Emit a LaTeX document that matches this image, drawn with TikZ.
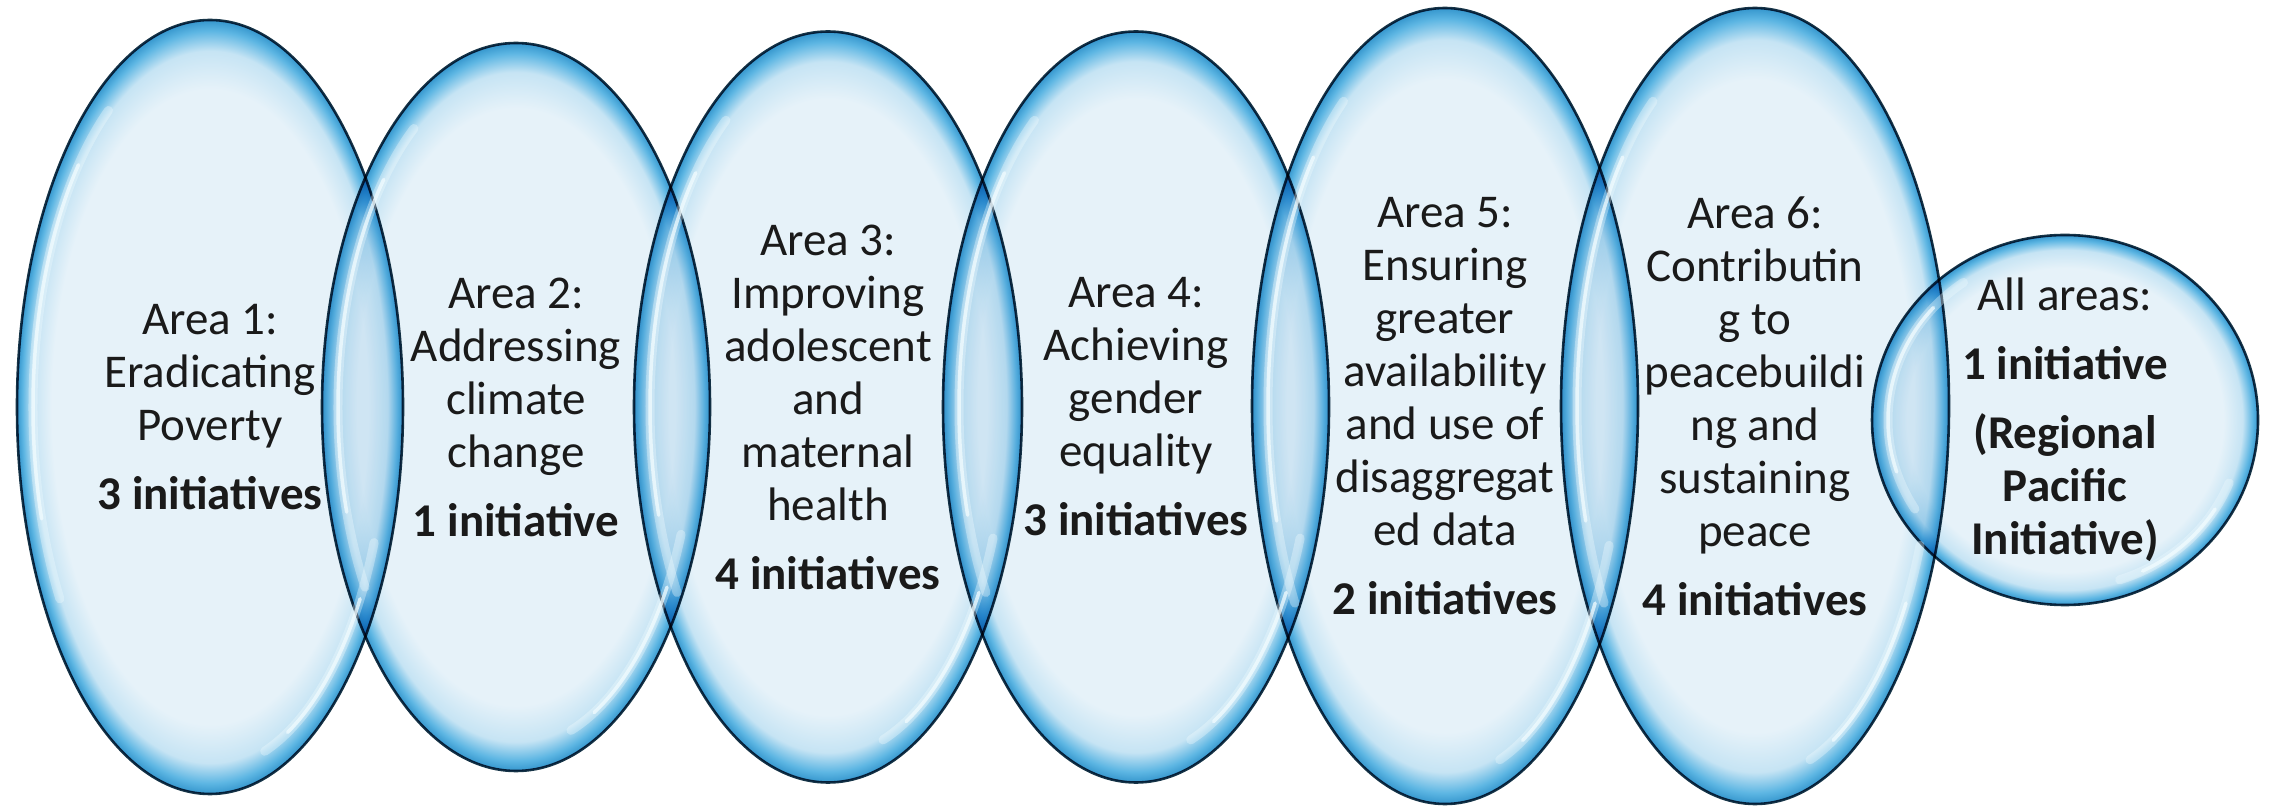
\documentclass[tikz,border=0pt]{standalone}
\usepackage{fontspec}
\setmainfont{Carlito}
\usetikzlibrary{shapes.geometric}
\definecolor{gin}{HTML}{E6F2F9}
\definecolor{gmid}{HTML}{C6E4F4}
\definecolor{gring}{HTML}{5DB6E3}
\definecolor{gedge}{HTML}{3596CD}
\definecolor{gline}{HTML}{163447}
\definecolor{txt}{HTML}{1A1A1A}
\definecolor{hl}{HTML}{F2FCFF}
\pgfdeclareradialshading{glossy}{\pgfpoint{0bp}{0bp}}{color(0bp)=(gin); color(20.5bp)=(gin); color(23bp)=(gmid); color(24.3bp)=(gring); color(25bp)=(gedge); color(50bp)=(gedge)}
\tikzset{
  petal/.style={ellipse, draw=gline, line width=2.6pt, shade, shading=glossy, inner sep=0pt, outer sep=0pt},
  labeltext/.style={font=\fontsize{47}{53}\selectfont, text=txt, align=center, inner sep=0pt},
  hlwide/.style={draw=hl, opacity=.35, line width=9pt, line cap=round},
  hlthin/.style={draw=hl, opacity=.75, line width=3.5pt, line cap=round},
}
\newcommand\glossmark[3]{%
  \begin{scope}[shift={(#1.center)}]
    \draw[hlwide] (125:#2 and #3) arc[start angle=125, end angle=212, x radius=#2, y radius=#3];
    \draw[hlthin] (138:#2 and #3) arc[start angle=138, end angle=198, x radius=#2, y radius=#3];
    \draw[hlwide] (-72:#2 and #3) arc[start angle=-72, end angle=-22, x radius=#2, y radius=#3];
    \draw[hlthin] (-64:#2 and #3) arc[start angle=-64, end angle=-32, x radius=#2, y radius=#3];
  \end{scope}}
\begin{document}
\begin{tikzpicture}[x=1pt,y=1pt]
\useasboundingbox (0,0) rectangle (2274,806);
\begin{scope}[blend mode=multiply]
  \node[petal, minimum width=386pt, minimum height=774pt] (e1) at (210,399) {};
  \node[petal, minimum width=388pt, minimum height=728pt] (e2) at (516,399) {};
  \node[petal, minimum width=388pt, minimum height=751pt] (e3) at (828,399) {};
  \node[petal, minimum width=386pt, minimum height=751pt] (e4) at (1136,399) {};
  \node[petal, minimum width=386pt, minimum height=796pt] (e5) at (1445,400) {};
  \node[petal, minimum width=388pt, minimum height=796pt] (e6) at (1755,400) {};
  \node[petal, minimum width=386pt, minimum height=370pt] (e7) at (2065,386) {};
\end{scope}
\glossmark{e1}{177}{362}
\glossmark{e2}{178}{340}
\glossmark{e3}{178}{350}
\glossmark{e4}{177}{350}
\glossmark{e5}{177}{372}
\glossmark{e6}{178}{372}
\glossmark{e7}{177}{168}
\node[labeltext] (t1) at (e1.center) {Area 1:\\Eradicating\\Poverty\\[16pt]\textbf{3 initiatives}};
\node[labeltext] (t2) at (e2.center) {Area 2:\\Addressing\\climate\\change\\[16pt]\textbf{1 initiative}};
\node[labeltext] (t3) at (e3.center) {Area 3:\\Improving\\adolescent\\and\\maternal\\health\\[16pt]\textbf{4 initiatives}};
\node[labeltext] (t4) at (e4.center) {Area 4:\\Achieving\\gender\\equality\\[16pt]\textbf{3 initiatives}};
\node[labeltext] (t5) at (e5.center) {Area 5:\\Ensuring\\greater\\availability\\and use of\\disaggregat\\ed data\\[16pt]\textbf{2 initiatives}};
\node[labeltext] (t6) at (e6.center) {Area 6:\\Contributin\\g to\\peacebuildi\\ng and\\sustaining\\peace\\[16pt]\textbf{4 initiatives}};
\node[labeltext] (t7) at (e7.center) {All areas:\\[16pt]\textbf{1 initiative}\\[16pt]\textbf{(Regional}\\\textbf{Pacific}\\\textbf{Initiative)}};
\end{tikzpicture}
\end{document}
